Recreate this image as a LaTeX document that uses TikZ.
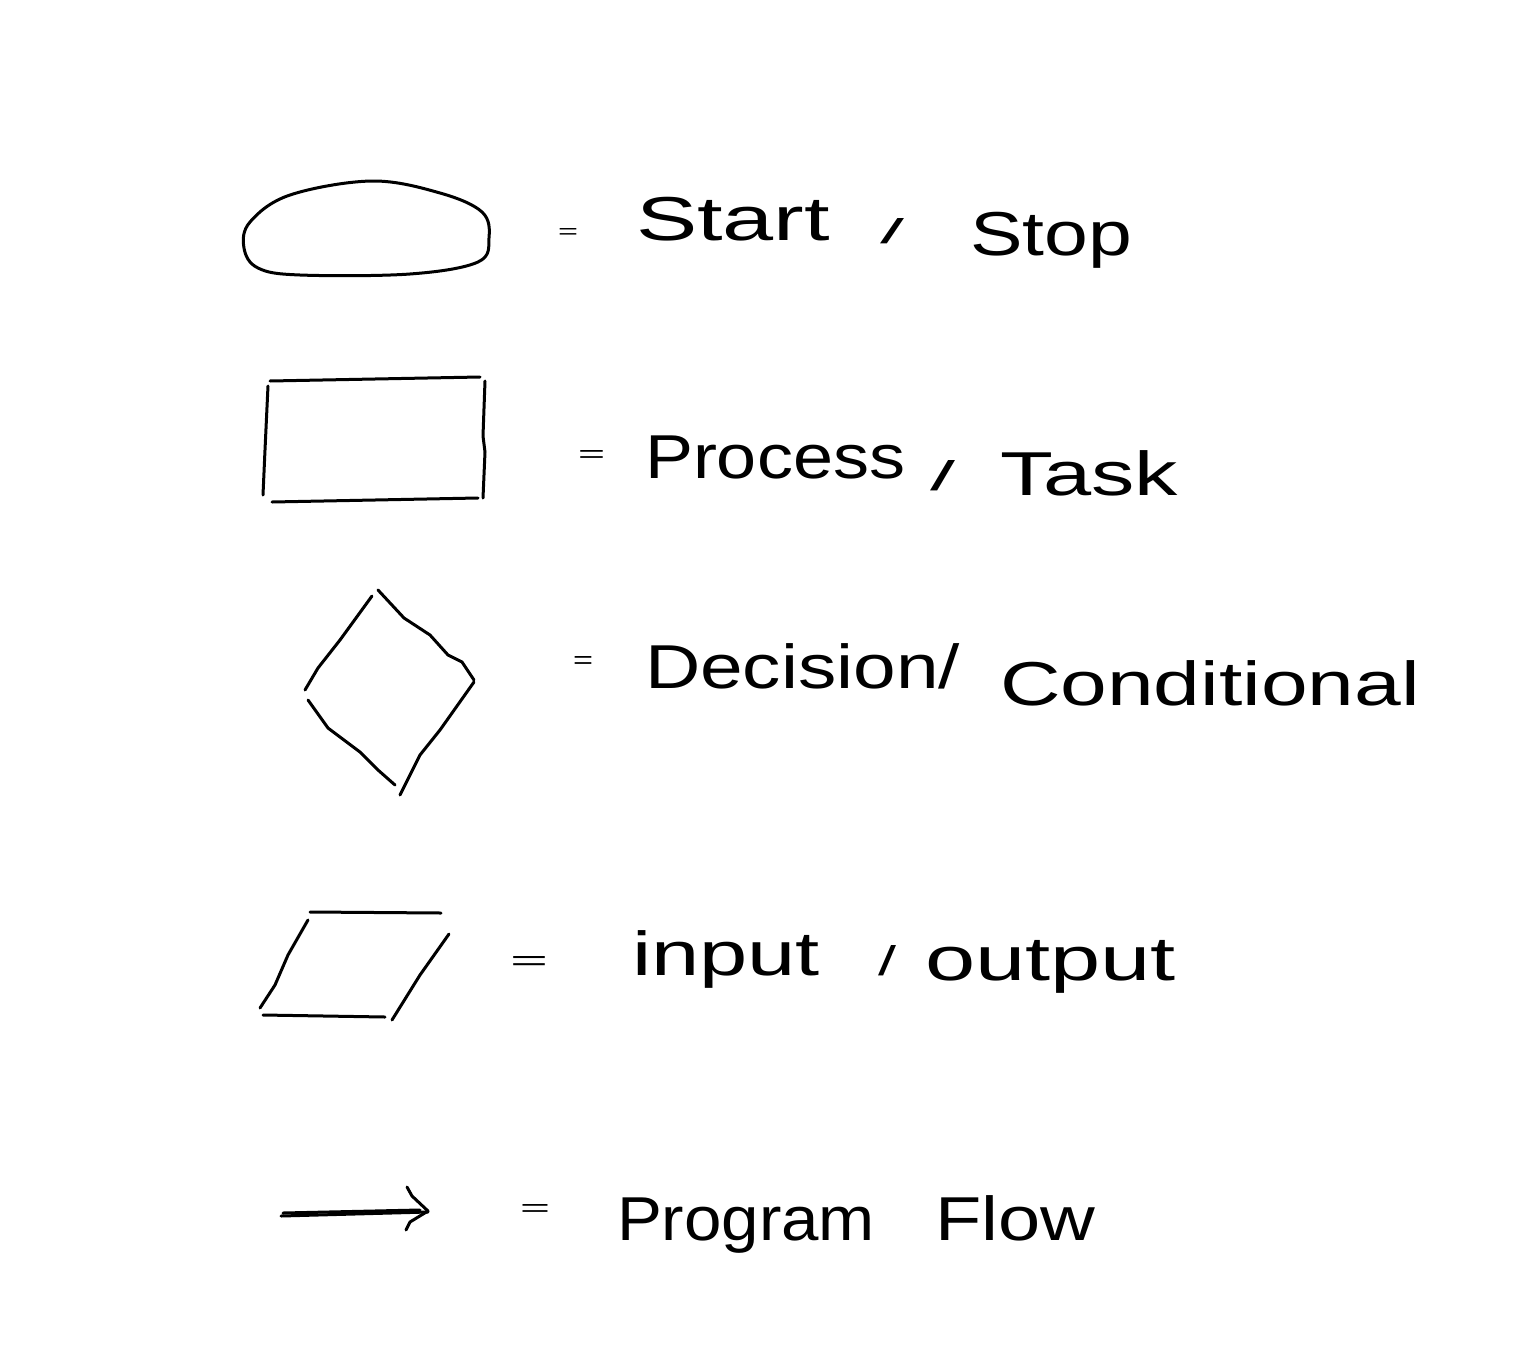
\documentclass[tikz,border=0pt]{standalone}
\usepackage{fontspec}
\setmainfont{Liberation Sans}
\usepackage{graphicx}
\newcommand\hw[3]{\resizebox{#1pt}{#2pt}{#3}}
\newcommand\hx[2]{\resizebox{#1pt}{\height}{#2}}
\tikzset{
  pen/.style={line width=3pt, line cap=round, line join=round, black},
  word/.style={anchor=base west, inner sep=0pt, outer sep=0pt, font=\fontsize{62}{70}\selectfont}
}
\begin{document}
\begin{tikzpicture}[x=1pt,y=-1pt]
\useasboundingbox[fill=white] (0,0) rectangle (1536,1346);
% Start/Stop blob
\draw[pen] plot[smooth cycle, tension=0.6] coordinates {(372,181) (440,193) (482,212) (489,238) (478,262) (410,274) (300,275) (258,268) (244,248) (250,222) (290,195)};
% Process rectangle
\draw[pen] (270,381) -- (480,377);
\draw[pen] (485,381) -- (483,436) -- (485,452) -- (483,498);
\draw[pen] (478,498) -- (272,502);
\draw[pen] (268,386) -- (265,450) -- (263,495);
% Decision diamond
\draw[pen] (378,590) -- (404,618) -- (430,635) -- (448,655) -- (462,662) -- (474,680);
\draw[pen] (474,682) -- (440,730) -- (420,755) -- (400,795);
\draw[pen] (372,596) -- (340,640) -- (318,668) -- (305,690);
\draw[pen] (308,700) -- (328,728) -- (360,752) -- (378,770) -- (395,785);
% Input/output parallelogram
\draw[pen] (310,912) -- (441,913);
\draw[pen] (263,1015) -- (385,1017);
\draw[pen] (308,920) -- (288,955) -- (275,985) -- (260,1008);
\draw[pen] (449,934) -- (420,975) -- (392,1020);
% Program flow arrow
\draw[pen] (281,1216) -- (428,1212);
\draw[pen] (283,1213) -- (420,1210);
\draw[pen] (407,1187) -- (412,1196) -- (428,1211) -- (410,1222) -- (406,1230);
% Labels
\node[word] (eq1) at (558,238) {\hw{20}{10}{=}};
\node[word] (start) at (636,240) {\hx{194}{Start}};
\node[word] (sl1) at (880,243) {\hw{24}{25}{/}};
\node[word] (stop) at (970,255) {\hx{162}{Stop}};
\node[word] (eq2) at (578,462) {\hw{27}{12}{=}};
\node[word] (process) at (645,478) {\hx{260}{Process}};
\node[word] (sl2) at (930,490) {\hw{25}{30}{/}};
\node[word] (task) at (1000,495) {\hx{178}{Task}};
\node[word] (eq3) at (573,668) {\hw{20}{12}{=}};
\node[word] (decision) at (645,688) {\hx{315}{Decision/}};
\node[word] (cond) at (1000,705) {\hx{420}{Conditional}};
\node[word] (eq4) at (510,970) {\hw{38}{14}{=}};
\node[word] (input) at (632,975) {\hx{188}{input}};
\node[word] (sl4) at (878,975) {\hw{18}{30}{/}};
\node[word] (output) at (925,980) {\hx{251}{output}};
\node[word] (eq5) at (520,1216) {\hw{30}{12}{=}};
\node[word] (program) at (617,1240) {\hx{258}{Program}};
\node[word] (flow) at (935,1240) {\hx{160}{Flow}};
\end{tikzpicture}
\end{document}
